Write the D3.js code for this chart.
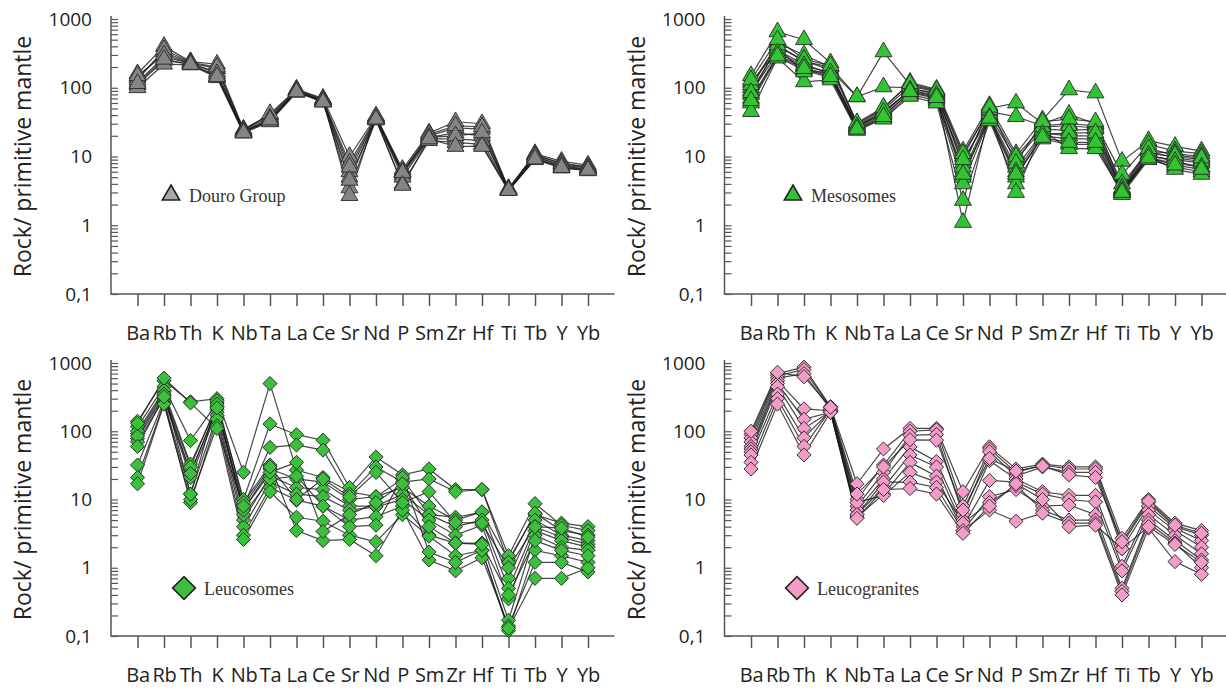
<!DOCTYPE html>
<html>
<head>
<meta charset="utf-8">
<script src="https://cdn.jsdelivr.net/npm/d3@7"></script>
<style>
  body { margin: 0; background: #fff; }
  svg { display: block; }
</style>
</head>
<body>
<div id="chart"></div>
<script>
// elements on the x axis
let elements = ["Ba","Rb","Th","K","Nb","Ta","La","Ce","Sr","Nd","P","Sm","Zr","Hf","Ti","Tb","Y","Yb"];
let yTickValues = [0.1, 1, 10, 100, 1000];
let yTickLabels = ["0,1", "1", "10", "100", "1000"];

// rock / primitive mantle, one row per sample
let douro = [
  [160, 400, 240, 220, 25, 40, 95, 70, 10, 38, 6.5, 22, 32, 30, 3.4, 11, 8.5, 7.5],
  [140, 330, 230, 190, 24, 38, 92, 66, 8, 37, 6, 20, 26, 25, 3.3, 10.5, 8, 7],
  [120, 280, 225, 170, 23, 35, 90, 65, 6, 36, 5.5, 19, 22, 20, 3.3, 10, 7.5, 6.8],
  [110, 250, 220, 150, 23, 33, 88, 63, 5, 35, 5, 18, 18, 17, 3.2, 9.5, 7, 6.5],
  [100, 220, 215, 140, 22, 32, 86, 62, 3.5, 34, 4, 17, 16, 15, 3.2, 9, 6.8, 6.2],
  [130, 360, 235, 200, 24, 42, 94, 68, 2.7, 39, 6, 21, 28, 27, 3.4, 10.5, 7.8, 7],
  [150, 300, 228, 160, 23, 36, 90, 64, 7, 36, 5.8, 19, 20, 22, 3.3, 10, 7.2, 6.6],
  [115, 260, 218, 145, 22, 34, 87, 62, 4.5, 35, 3.8, 18, 14, 14, 3.2, 9.2, 6.9, 6.3]
];

let mesosomes = [
  [150, 650, 500, 230, 30, 50, 120, 95, 12, 55, 11, 34, 93, 84, 8.5, 17, 14, 12],
  [100, 450, 300, 200, 74, 333, 110, 90, 10, 50, 60, 30, 41, 30, 5.5, 15, 12, 11],
  [80, 400, 250, 180, 74, 103, 100, 80, 8, 45, 38, 28, 30, 28, 4, 12, 11, 10],
  [120, 350, 220, 160, 28, 45, 90, 75, 6, 40, 9, 25, 24, 25, 3.3, 11, 10, 9],
  [70, 300, 200, 150, 26, 40, 85, 70, 5, 38, 7, 22, 20, 20, 3.2, 10, 9, 8],
  [60, 280, 180, 140, 25, 36, 80, 65, 4, 35, 5, 20, 18, 18, 3, 9.5, 8, 7],
  [45, 270, 122, 130, 24, 35, 75, 60, 2.3, 33, 4, 18, 15, 15, 2.8, 9, 7, 6],
  [90, 380, 170, 170, 27, 42, 95, 85, 1.1, 42, 3, 24, 13, 13, 3.1, 10, 6.5, 5.5],
  [110, 420, 240, 200, 29, 48, 105, 88, 11, 48, 10, 27, 28, 26, 3.4, 12, 9.5, 8.5],
  [130, 500, 260, 210, 31, 52, 115, 92, 7, 52, 8, 32, 35, 32, 3.5, 13, 10.5, 9.5],
  [85, 320, 210, 165, 27, 44, 92, 78, 9, 37, 6, 21, 22, 22, 3.2, 10.5, 8.5, 7],
  [65, 290, 190, 145, 25, 38, 88, 72, 5.5, 36, 5.5, 19, 16, 16, 3, 9.5, 7.5, 6.5]
];

let leucosomes = [
  [140, 550, 270, 300, 25, 500, 27, 21, 13, 11, 20, 6, 5.5, 6.5, 1.3, 6, 4.5, 4],
  [116, 450, 73, 260, 10, 128, 89, 74, 15, 42, 23, 28, 14, 14, 1.5, 8.7, 4.2, 3.5],
  [92, 380, 33, 230, 8, 58, 63, 53, 12, 30, 18, 20, 13, 14, 1.2, 6.3, 3.5, 3],
  [78, 330, 25, 210, 7, 28, 20, 18, 10, 11, 15, 8, 5, 6.6, 0.7, 5, 3, 2.5],
  [70, 300, 21, 190, 5, 22, 15, 14, 8, 8, 12, 6, 4, 5, 0.5, 4, 2.8, 2.2],
  [32, 280, 12, 170, 4, 18, 12, 11, 7, 7.8, 10, 5, 3, 4.2, 0.35, 3.5, 2.5, 2],
  [21, 260, 9, 150, 3, 15, 9.8, 8, 5, 5.6, 8, 3, 2.3, 2.3, 0.17, 3, 2, 1.8],
  [17, 250, 10, 120, 2.6, 13, 5.5, 4.8, 3, 2.4, 6, 2.9, 1.5, 1.8, 0.12, 1.8, 1.5, 1.2],
  [100, 400, 12, 280, 9, 32, 3.5, 2.5, 2.6, 1.5, 7, 1.3, 0.9, 1.4, 0.14, 1.2, 1.2, 0.87],
  [85, 350, 30, 250, 6, 20, 22, 8, 4, 4.2, 21, 1.7, 1.2, 1.8, 0.13, 0.7, 0.7, 1],
  [60, 320, 24, 220, 7, 25, 35, 3.4, 6, 9, 17, 4, 2.3, 2.2, 0.4, 2.5, 1.8, 1.5],
  [130, 600, 260, 110, 8, 30, 10, 20, 11, 25, 9, 13, 4.6, 4.5, 1, 4, 3.8, 2.8]
];

let leucogranites = [
  [90, 700, 870, 230, 17, 55, 110, 110, 13, 59, 28, 33, 30, 30, 2.7, 10, 4.5, 3.5],
  [80, 650, 800, 220, 10, 32, 100, 105, 8, 55, 25, 32, 28, 28, 2.2, 9, 4, 3],
  [70, 600, 700, 210, 8, 25, 87, 90, 6, 50, 22, 30, 25, 25, 1.9, 8, 3.8, 2.5],
  [60, 550, 213, 200, 7, 20, 59, 36, 5, 37, 20, 13, 11.5, 11.5, 1.05, 7, 3.5, 2],
  [55, 500, 150, 190, 6, 15, 45, 30, 4, 19, 18, 12, 10, 9.2, 0.9, 6, 3, 1.6],
  [50, 450, 110, 195, 5.5, 12, 35, 22, 3.5, 11, 14, 8, 8.3, 6, 0.5, 5, 2.5, 1.3],
  [45, 350, 80, 200, 9, 11.5, 25, 18, 4.5, 9, 16, 7, 5, 5, 0.45, 4.5, 2.3, 1],
  [35, 300, 60, 205, 6, 18, 18, 15, 3.5, 7, 4.8, 6.3, 4.5, 4.5, 0.4, 3.8, 1.23, 0.8],
  [28, 250, 45, 190, 5.3, 14, 14.5, 12, 3.2, 8, 17, 10, 4, 4.2, 1.9, 4, 2.2, 1.2],
  [100, 730, 630, 225, 12, 30, 75, 74, 7, 40, 26, 31, 23, 21, 2.4, 9.5, 4.2, 3.2]
];

let panels = [
  {name: "Douro Group", data: douro, shape: "tri", fill: "#858585", legFill: "#a8a8a8",
   x0: 111, yTop: 19, yBot: 294, legX: 171, legY: 195},
  {name: "Mesosomes", data: mesosomes, shape: "tri", fill: "#33c433", legFill: "#33c433",
   x0: 724.5, yTop: 19, yBot: 294, legX: 793, legY: 195},
  {name: "Leucosomes", data: leucosomes, shape: "dia", fill: "#3cbf3c", legFill: "#3cbf3c",
   x0: 111, yTop: 363, yBot: 636, legX: 184, legY: 588},
  {name: "Leucogranites", data: leucogranites, shape: "dia", fill: "#f49cc8", legFill: "#f49cc8",
   x0: 724.5, yTop: 363, yBot: 636, legX: 797, legY: 588}
];

let width = 1226;
let height = 688;

let svg = d3.select('#chart')
    .append('svg')
        .attr('width', width)
        .attr('height', height);

svg.append('rect').attr('width', width).attr('height', height).attr('fill', '#fff');

let triSym = d3.symbol().type(d3.symbolTriangle).size(125);
let diaSym = d3.symbol().type(d3.symbolSquare).size(100);

panels.forEach(function(p){
    let g = svg.append('g');

    let x = d3.scaleLinear()
        .domain([0, 19])
        .range([p.x0, p.x0 + 503.5]);
    let y = d3.scaleLog()
        .domain([0.1, 1000])
        .range([p.yBot, p.yTop]);

    // y axis : minor ticks inside, labels outside
    let yMinor = d3.axisRight(y)
        .tickValues(y.ticks())
        .tickSize(7)
        .tickFormat("");
    let ya = g.append('g')
        .attr('transform', 'translate(' + p.x0 + ',0)')
        .call(yMinor);
    ya.select('.domain').remove();
    ya.selectAll('line').attr('stroke', '#555').attr('stroke-width', 1.2);

    let yLab = d3.axisLeft(y)
        .tickValues(yTickValues)
        .tickSize(0)
        .tickPadding(19)
        .tickFormat(function(d, i){ return yTickLabels[i]; });
    let yl = g.append('g')
        .attr('transform', 'translate(' + p.x0 + ',0)')
        .call(yLab);
    yl.select('.domain').remove();
    yl.selectAll('text')
        .attr('font-family', 'Open Sans')
        .attr('font-size', 19)
        .attr('fill', '#222');

    // x axis
    let xa = d3.axisBottom(x)
        .tickValues(d3.range(1, 19))
        .tickSize(12)
        .tickPadding(20)
        .tickFormat(function(d){ return elements[d - 1]; });
    let xg = g.append('g')
        .attr('transform', 'translate(0,' + p.yBot + ')')
        .call(xa);
    xg.select('.domain').remove();
    xg.selectAll('line').attr('stroke', '#555').attr('stroke-width', 1.5);
    xg.selectAll('text')
        .attr('font-family', 'Open Sans')
        .attr('font-size', 20)
        .attr('letter-spacing', -0.3)
        .attr('fill', '#222');

    // axis lines
    g.append('path')
        .attr('d', 'M' + p.x0 + ',' + (p.yTop - 3) + 'V' + p.yBot + 'H' + (p.x0 + 503.5))
        .attr('fill', 'none')
        .attr('stroke', '#555')
        .attr('stroke-width', 1.5);

    // y title
    g.append('text')
        .attr('transform', 'translate(' + (p.x0 - 88) + ',' + ((p.yTop + p.yBot) / 2) + ') rotate(-90)')
        .attr('text-anchor', 'middle')
        .attr('dy', '0.35em')
        .attr('font-family', 'Open Sans')
        .attr('font-size', 23)
        .attr('fill', '#222')
        .text('Rock/ primitive mantle');

    // sample lines
    let line = d3.line()
        .x(function(d, i){ return x(i + 1); })
        .y(function(d){ return y(d); });
    p.data.forEach(function(s){
        g.append('path')
            .attr('d', line(s))
            .attr('fill', 'none')
            .attr('stroke', '#1a1a1a')
            .attr('stroke-opacity', 0.8)
            .attr('stroke-width', 1.2);
    });

    // markers
    let sym = p.shape == "tri" ? triSym : diaSym;
    let rot = p.shape == "tri" ? 0 : 45;
    p.data.forEach(function(s){
        s.forEach(function(v, i){
            g.append('path')
                .attr('d', sym())
                .attr('transform', 'translate(' + x(i + 1) + ',' + y(v) + ') rotate(' + rot + ')')
                .attr('fill', p.fill)
                .attr('stroke', '#2a2a2a')
                .attr('stroke-width', 0.9);
        });
    });

    // legend
    let legSym = p.shape == "tri"
        ? d3.symbol().type(d3.symbolTriangle).size(130)
        : d3.symbol().type(d3.symbolSquare).size(260);
    g.append('path')
        .attr('d', legSym())
        .attr('transform', 'translate(' + p.legX + ',' + p.legY + ') rotate(' + rot + ')')
        .attr('fill', p.legFill)
        .attr('stroke', '#222')
        .attr('stroke-width', 1.6);
    g.append('text')
        .attr('x', p.legX + (p.shape == "tri" ? 18 : 20))
        .attr('y', p.legY + 7)
        .attr('font-family', 'Liberation Serif')
        .attr('font-size', 18)
        .attr('fill', '#333')
        .text(p.name);
});
</script>
</body>
</html>
